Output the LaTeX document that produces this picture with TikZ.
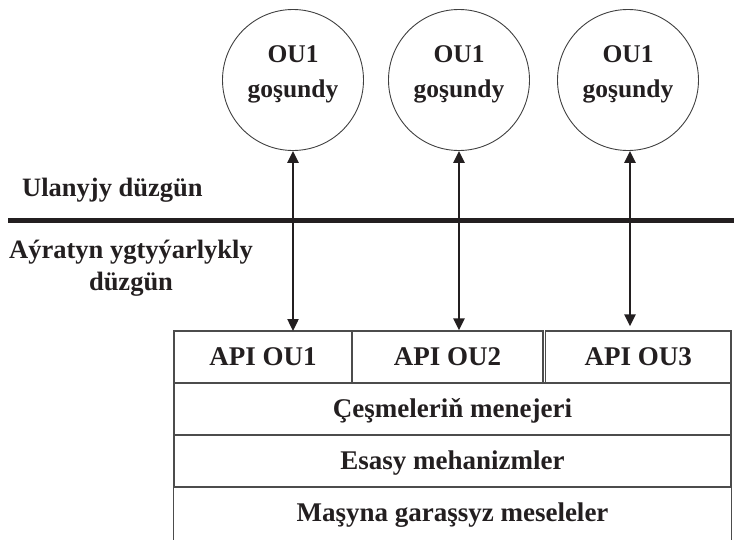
\documentclass[tikz,border=0pt]{standalone}
\usepackage{fontspec}
\setmainfont{Liberation Serif}
\usetikzlibrary{arrows.meta}
\definecolor{ink}{HTML}{231F20}
\begin{document}
\begin{tikzpicture}[x=1pt,y=-1pt,
  every node/.style={text=ink},
  unit/.style={circle, draw=black!75, line width=0.9pt, minimum size=141pt, inner sep=0pt},
  unitlabel/.style={align=center, inner sep=0pt, font=\fontsize{25.5}{35}\selectfont\bfseries},
  caption/.style={inner sep=0pt, font=\fontsize{26.5}{32}\selectfont\bfseries},
  rowtext/.style={inner sep=0pt, text height=17.5pt, text depth=0pt,
    font=\fontsize{27}{32}\selectfont\bfseries},
  cell/.style={rowtext, rectangle, draw=black!70, line width=1.2pt, minimum height=52pt},
  gridline/.style={draw=black!70, line width=1.2pt},
  link/.style={draw=ink, line width=2.4pt,
    {Triangle[length=12pt,width=11pt]}-{Triangle[length=12pt,width=11pt]}},
  bus/.style={draw=ink, line width=5pt}]
\useasboundingbox (0,0) rectangle (734,539);

% application units
\node[unit] (c1) at (293,80) {};
\node[unit] (c2) at (459,80) {};
\node[unit] (c3) at (628,80) {};
\node[unitlabel] (t1) at ([yshift=6pt]c1.center) {OU1\\goşundy};
\node[unitlabel] (t2) at ([yshift=6pt]c2.center) {OU1\\goşundy};
\node[unitlabel] (t3) at ([yshift=6pt]c3.center) {OU1\\goşundy};

% mode boundary
\coordinate (busL) at (8,220);
\coordinate (busR) at (734,220);
\draw[bus] (busL) -- (busR);
\node[caption, anchor=base west] (usermode) at (22,196) {Ulanyjy düzgün};
\node[caption, align=center, anchor=north] (kernelmode) at (131,240)
  {Aýratyn ygtyýarlykly\\düzgün};

% layered system block
\node[cell, minimum width=178pt] (api1) at (263,357) {API OU1};
\node[cell, minimum width=191pt] (api2) at (447.5,357) {API OU2};
\node[cell, minimum width=185.5pt] (api3) at (638.25,357) {API OU3};
\node[cell, minimum width=557pt] (srcmgr) at (452.5,409) {Çeşmeleriň menejeri};
\node[cell, minimum width=557pt] (core) at (452.5,461) {Esasy mehanizmler};
\node[rowtext] (indep) at (452.5,513) {Maşyna garaşsyz meseleler};
\draw[gridline] (core.south west) -- ++(0,52);
\draw[gridline] (core.south east) -- ++(0,52);

% calls between units and their interfaces
\coordinate (a1) at (293,331);
\draw[link] (c1.south) -- (a1);
\draw[link] (c2.south) -- (c2.south |- api2.north);
\draw[link] ([xshift=2pt]c3.south) -- ([xshift=2pt,yshift=4pt]c3.south |- api3.north);
\end{tikzpicture}
\end{document}
